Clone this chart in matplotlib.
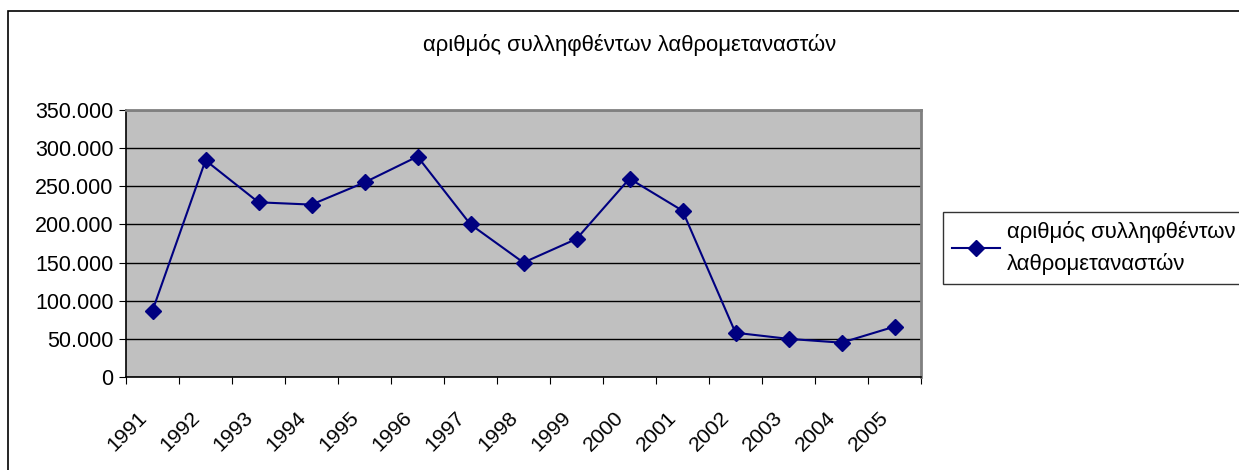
import matplotlib

matplotlib.use("Agg")
import matplotlib.pyplot as plt
from matplotlib.patches import Rectangle
from matplotlib.ticker import FuncFormatter
from matplotlib.transforms import ScaledTranslation

plt.rcParams["font.family"] = ["Liberation Sans", "DejaVu Sans"]

TITLE = "αριθμός συλληφθέντων λαθρομεταναστών"
LEGEND_LABEL = "αριθμός συλληφθέντων\nλαθρομεταναστών"
years = ["1991", "1992", "1993", "1994", "1995", "1996", "1997", "1998",
         "1999", "2000", "2001", "2002", "2003", "2004", "2005"]
arrests = [87000, 284000, 229000, 226000, 255000, 289000, 200000, 150000,
           181000, 260000, 218000, 58000, 50000, 45000, 66000]

W, H = 1239, 470
fig = plt.figure(figsize=(W / 100, H / 100), dpi=100)

# outer chart frame (cut off at right and bottom like the reference)
fig.add_artist(Rectangle((8 / W, -0.1), 1.2, (H - 11) / H + 0.1, transform=fig.transFigure,
                         fill=False, edgecolor="black", lw=1.2))

ax = fig.add_axes([126 / W, (H - 377) / H, (921 - 126) / W, (377 - 110) / H])
ax.set_facecolor("#C0C0C0")

x = [i + 0.5 for i in range(len(years))]
ax.plot(x, arrests, color="#000080", lw=1.5, marker="D", ms=8.5, label=LEGEND_LABEL, zorder=3)

ax.set_xlim(0, len(years))
ax.set_ylim(0, 350000)
ax.set_yticks(range(0, 350001, 50000))
ax.yaxis.set_major_formatter(FuncFormatter(lambda v, _: f"{int(v):,}".replace(",", ".")))
ax.grid(axis="y", color="black", lw=1)
ax.set_axisbelow(True)

ax.set_xticks(range(len(years) + 1))
ax.set_xticklabels([])
ax.set_xticks(x, minor=True)
ax.set_xticklabels(years, minor=True, rotation=45, ha="right", va="center",
                   rotation_mode="anchor")
ax.tick_params(axis="x", which="minor", length=0, pad=27, labelsize=15.3)
ax.tick_params(axis="x", which="major", length=5, direction="out")
ax.tick_params(axis="y", length=5, labelsize=15.5, pad=4)
shift = ScaledTranslation(-9 / 100, 0, fig.dpi_scale_trans)
for lbl in ax.get_xticklabels(minor=True):
    lbl.set_transform(lbl.get_transform() + shift)

for side in ("top", "right"):
    ax.spines[side].set_color("#808080")
    ax.spines[side].set_linewidth(2)
for side in ("left", "bottom"):
    ax.spines[side].set_color("black")
    ax.spines[side].set_linewidth(1.2)

fig.text(630 / W, 1 - 45 / H, TITLE, ha="center", va="center", fontsize=15.9)

leg = fig.legend(loc="upper left", bbox_to_anchor=(943 / W, 1 - 212 / H),
                 fontsize=15.9, frameon=True, fancybox=False, borderaxespad=0,
                 handlelength=2.2, borderpad=0.4, handletextpad=0.3)
leg.get_texts()[0].set_linespacing(1.6)
leg.get_frame().set_edgecolor("black")
leg.get_frame().set_linewidth(1)

fig.savefig("out.png", dpi=100)
